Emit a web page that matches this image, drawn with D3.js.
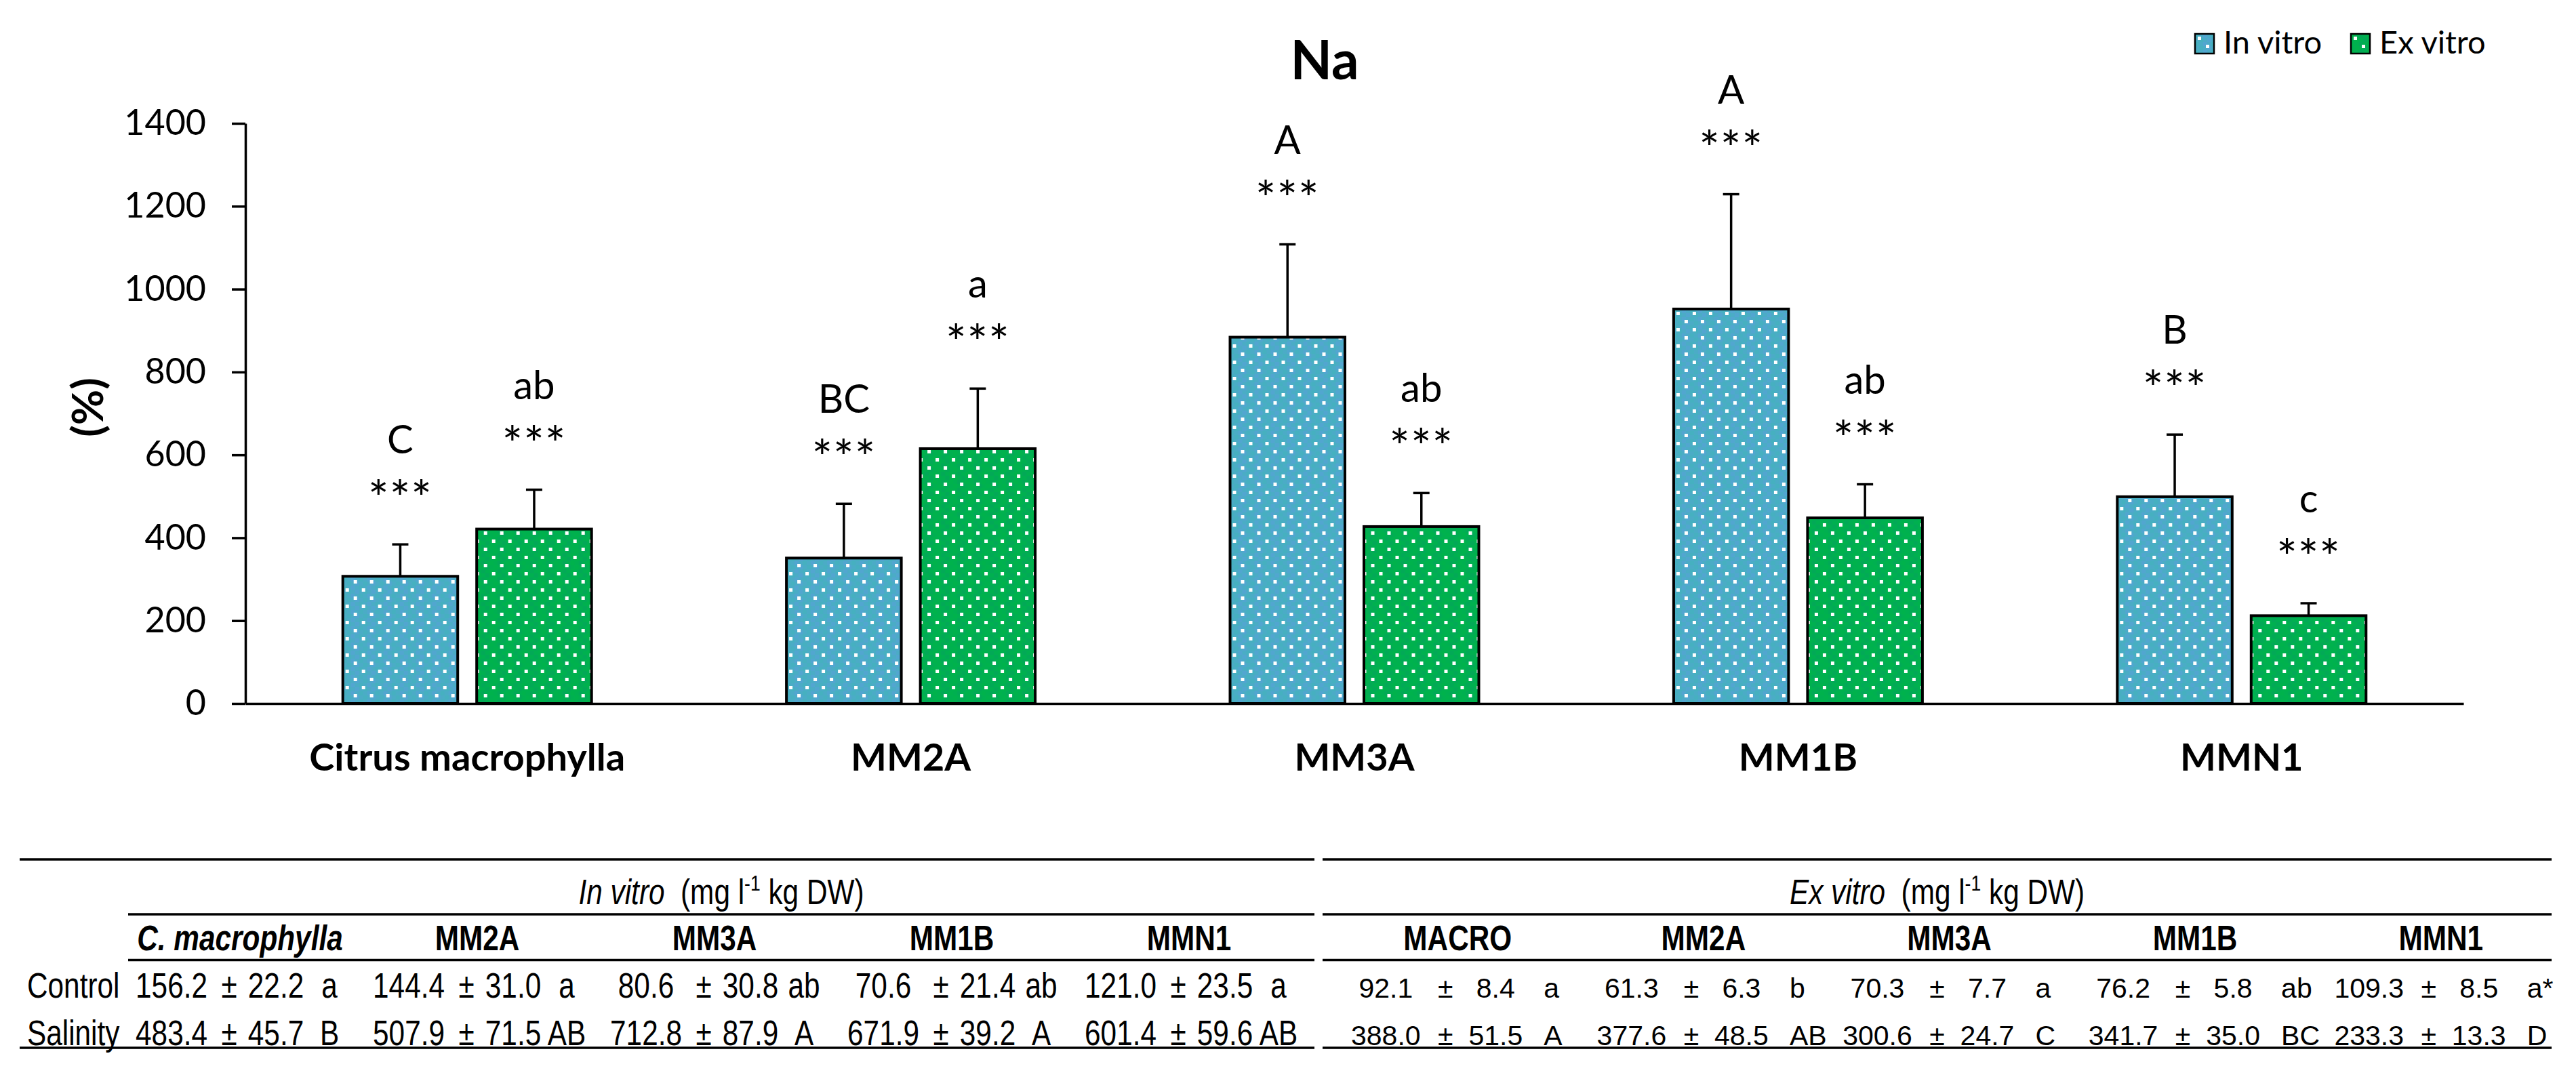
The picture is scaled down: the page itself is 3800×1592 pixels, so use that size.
<!DOCTYPE html>
<html><head><meta charset="utf-8">
<script src="https://cdn.jsdelivr.net/npm/d3@7/dist/d3.min.js"></script>
<style>body{margin:0;background:#fff}svg{display:block}</style>
</head><body>
<svg id="chart" width="3800" height="1592"></svg>
<script>
// ---------------- data ----------------
const categories = ["Citrus macrophylla", "MM2A", "MM3A", "MM1B", "MMN1"];
const seriesNames = ["In vitro", "Ex vitro"];
const inVitroPct = [307, 351, 884, 952, 499];
const inVitroErr = [77, 131, 224, 277, 150];
const exVitroPct = [421, 615, 427, 448, 212];
const exVitroErr = [95, 145, 81, 81, 30];
const inVitroLetters = ["C", "BC", "A", "A", "B"];
const exVitroLetters = ["ab", "a", "ab", "ab", "c"];
const inVitroSig = ["***", "***", "***", "***", "***"];
const exVitroSig = ["***", "***", "***", "***", "***"];
const yTicks = [0, 200, 400, 600, 800, 1000, 1200, 1400];
const chartTitle = "Na";
const yLabel = "(%)";

// table data
const rowLabels = ["Control", "Salinity"];
const inVitroCols = ["C. macrophylla", "MM2A", "MM3A", "MM1B", "MMN1"];
const exVitroCols = ["MACRO", "MM2A", "MM3A", "MM1B", "MMN1"];
const inVitroControlMean = [156.2, 144.4, 80.6, 70.6, 121.0];
const inVitroControlSD = [22.2, 31.0, 30.8, 21.4, 23.5];
const inVitroControlLet = ["a", "a", "ab", "ab", "a"];
const inVitroSalMean = [483.4, 507.9, 712.8, 671.9, 601.4];
const inVitroSalSD = [45.7, 71.5, 87.9, 39.2, 59.6];
const inVitroSalLet = ["B", "AB", "A", "A", "AB"];
const exVitroControlMean = [92.1, 61.3, 70.3, 76.2, 109.3];
const exVitroControlSD = [8.4, 6.3, 7.7, 5.8, 8.5];
const exVitroControlLet = ["a", "b", "a", "ab", "a*"];
const exVitroSalMean = [388.0, 377.6, 300.6, 341.7, 233.3];
const exVitroSalSD = [51.5, 48.5, 24.7, 35.0, 13.3];
const exVitroSalLet = ["A", "AB", "C", "BC", "D"];

// ---------------- drawing ----------------
const svg = d3.select("#chart");
const FONT = "Lato, Carlito, 'Open Sans', sans-serif";
const TFONT = "'Liberation Sans', Arial, sans-serif";
const fmt = d3.format(".1f");

// patterns
const defs = svg.append("defs");
function makePattern(id, base, c1, c2) {
  const p = defs.append("pattern").attr("id", id)
    .attr("patternUnits", "userSpaceOnUse").attr("width", 24).attr("height", 24);
  p.append("rect").attr("width", 24).attr("height", 24).attr("fill", base);
  [[0,0],[12,0],[6,6],[18,6],[0,12],[12,12],[6,18],[18,18]].forEach(([a,b],i) => {
    p.append("rect").attr("x", a).attr("y", b).attr("width", 6).attr("height", 6)
      .attr("fill", i % 2 ? c1 : c2);
  });
  p.append("rect").attr("x", 4).attr("y", 4).attr("width", 5).attr("height", 5).attr("fill", "#fff");
  p.append("rect").attr("x", 16).attr("y", 16).attr("width", 5).attr("height", 5).attr("fill", "#fff");
}
makePattern("pBlue", "#4BACC6", "#52A6D0", "#46B0C0");
makePattern("pGreen", "#00B050", "#03A957", "#00B24C");
const fills = {"In vitro": "url(#pBlue)", "Ex vitro": "url(#pGreen)"};

const y = d3.scaleLinear().domain([0, 1400]).range([1038, 182]);
const x0 = d3.scaleBand().domain(categories).range([362, 3634])
  .paddingInner(0.4392).paddingOuter(0.2196);
const x1 = d3.scaleBand().domain(seriesNames).range([0, x0.bandwidth()]).paddingInner(0.1418);

// y axis
const yAxis = svg.append("g").attr("transform", "translate(362,0)")
  .call(d3.axisLeft(y).tickValues(yTicks).tickFormat(d3.format("d"))
    .tickSize(20).tickSizeOuter(0).tickPadding(38));
yAxis.selectAll("path,line").attr("stroke", "#000").attr("stroke-width", 3.5);
yAxis.selectAll("text").attr("font-family", FONT).attr("font-size", 52).attr("fill", "#000");

// x axis
const xAxis = svg.append("g").attr("transform", "translate(0,1038)")
  .call(d3.axisBottom(x0).tickSize(0).tickSizeOuter(0).tickPadding(0));
xAxis.select("path").attr("stroke", "#000").attr("stroke-width", 3.5);
xAxis.selectAll("text").attr("dy", null).attr("y", 99)
  .attr("font-family", FONT).attr("font-size", 56).attr("font-weight", "bold").attr("fill", "#000");

// bars
const rows = categories.map((c, i) => ({
  cat: c,
  vals: [
    {s: "In vitro", v: inVitroPct[i], e: inVitroErr[i], l: inVitroLetters[i], sig: inVitroSig[i]},
    {s: "Ex vitro", v: exVitroPct[i], e: exVitroErr[i], l: exVitroLetters[i], sig: exVitroSig[i]}
  ]
}));
const groups = svg.append("g").selectAll("g").data(rows).join("g")
  .attr("transform", d => `translate(${x0(d.cat)},0)`);
const items = groups.selectAll("g").data(d => d.vals).join("g");
items.append("rect")
  .attr("x", d => x1(d.s)).attr("y", d => y(d.v))
  .attr("width", x1.bandwidth()).attr("height", d => y(0) - y(d.v))
  .attr("fill", d => fills[d.s]).attr("stroke", "#000").attr("stroke-width", 4);
const cx = d => x1(d.s) + x1.bandwidth() / 2;
items.append("line")
  .attr("x1", cx).attr("x2", cx).attr("y1", d => y(d.v)).attr("y2", d => y(d.v + d.e))
  .attr("stroke", "#000").attr("stroke-width", 3.5);
items.append("line")
  .attr("x1", d => cx(d) - 12).attr("x2", d => cx(d) + 12)
  .attr("y1", d => y(d.v + d.e)).attr("y2", d => y(d.v + d.e))
  .attr("stroke", "#000").attr("stroke-width", 3.5);
items.append("text").attr("x", cx).attr("y", d => y(d.v + d.e) - 42)
  .attr("text-anchor", "middle").attr("font-family", FONT).attr("font-size", 72)
  .attr("letter-spacing", 1).text(d => d.sig);
items.append("text").attr("x", cx).attr("y", d => y(d.v + d.e) - 134)
  .attr("text-anchor", "middle").attr("font-family", FONT).attr("font-size", 58)
  .text(d => d.l);

// title
svg.append("text").attr("x", 1954).attr("y", 117).attr("text-anchor", "middle")
  .attr("font-family", FONT).attr("font-weight", "bold").attr("font-size", 80).text(chartTitle);
// y label
svg.append("text").attr("transform", "translate(152,601) rotate(-90)").attr("text-anchor", "middle")
  .attr("font-family", FONT).attr("font-weight", "bold").attr("font-size", 64).text(yLabel);

// legend
const legX = d3.scaleOrdinal().domain(seriesNames).range([3238, 3468]);
const leg = svg.append("g").selectAll("g").data(seriesNames).join("g")
  .attr("transform", d => `translate(${legX(d)},50)`);
leg.append("rect").attr("width", 28).attr("height", 29).attr("fill", d => fills[d])
  .attr("stroke", "#000").attr("stroke-width", 2.5);
leg.append("text").attr("x", 42).attr("y", 29).attr("font-family", FONT).attr("font-size", 47).text(d => d);

// ---------------- table ----------------
const T = svg.append("g");
function hline(x1v, x2v, yv) {
  T.append("line").attr("x1", x1v).attr("x2", x2v).attr("y1", yv).attr("y2", yv)
    .attr("stroke", "#000").attr("stroke-width", 3.5);
}
const yTop = 1268, yH1 = 1349, yH2 = 1416.5, yBot = 1546;
const leftSpan = [29, 1939], leftInner = 189, rightSpan = [1951, 3764];
hline(leftSpan[0], leftSpan[1], yTop); hline(leftInner, leftSpan[1], yH1);
hline(leftInner, leftSpan[1], yH2); hline(leftSpan[0], leftSpan[1], yBot);
[yTop, yH1, yH2, yBot].forEach(v => hline(rightSpan[0], rightSpan[1], v));

const SX = 0.83;
function ntext(x, yv, str, opts = {}) {
  const t = T.append("text").attr("transform", `translate(${x},${yv}) scale(${opts.sx || SX},1)`)
    .attr("text-anchor", opts.anchor || "middle").attr("font-family", TFONT)
    .attr("font-size", opts.size || 51);
  if (opts.bold) t.attr("font-weight", "bold");
  if (opts.italic) t.attr("font-style", "italic");
  t.text(str);
  return t;
}
function header(x, label) {
  const t = T.append("text").attr("transform", `translate(${x},1334) scale(${SX},1)`)
    .attr("text-anchor", "middle").attr("font-family", TFONT).attr("font-size", 51);
  t.append("tspan").attr("font-style", "italic").text(label);
  t.append("tspan").text("\u00a0\u00a0(mg l");
  t.append("tspan").attr("font-size", 32).attr("dy", -20).text("-1");
  t.append("tspan").attr("dy", 20).text("\u00a0kg DW)");
}
header((leftInner + leftSpan[1]) / 2, "In vitro");
header((rightSpan[0] + rightSpan[1]) / 2, "Ex vitro");

const bandL = d3.scaleBand().domain(inVitroCols.map((d, i) => i)).range([leftInner, leftSpan[1]]);
const bandR = d3.scaleBand().domain(exVitroCols.map((d, i) => i)).range(rightSpan);
const cL = i => bandL(i) + bandL.bandwidth() / 2;
const cR = i => bandR(i) + bandR.bandwidth() / 2;
const rowY = [1471.5, 1541.5];

inVitroCols.forEach((c, i) => {
  ntext(cL(i) - 10, 1401.5, c, {bold: true, italic: i === 0});
});
exVitroCols.forEach((c, i) => {
  ntext(cR(i) + 18, 1401.5, c, {bold: true});
});
rowLabels.forEach((r, k) => ntext(40, rowY[k], r, {anchor: "start"}));

const inV = [[inVitroControlMean, inVitroControlSD, inVitroControlLet], [inVitroSalMean, inVitroSalSD, inVitroSalLet]];
const exV = [[exVitroControlMean, exVitroControlSD, exVitroControlLet], [exVitroSalMean, exVitroSalSD, exVitroSalLet]];
inV.forEach(([m, s, l], k) => {
  m.forEach((v, i) => {
    ntext(cL(i) - 111, rowY[k], fmt(v));
    ntext(cL(i) - 26, rowY[k], "\u00b1");
    ntext(cL(i) + 43, rowY[k], fmt(s[i]));
    ntext(cL(i) + 122, rowY[k], l[i]);
  });
});
exV.forEach(([m, s, l], k) => {
  m.forEach((v, i) => {
    ntext(cR(i) - 88, rowY[k], fmt(v), {sx: 1, size: 41});
    ntext(cR(i), rowY[k], "\u00b1", {sx: 1, size: 41});
    ntext(cR(i) + 74, rowY[k], fmt(s[i]), {sx: 1, size: 41});
    ntext(cR(i) + 145, rowY[k], l[i], {sx: 1, size: 41, anchor: "start"});
  });
});
</script>
</body></html>
